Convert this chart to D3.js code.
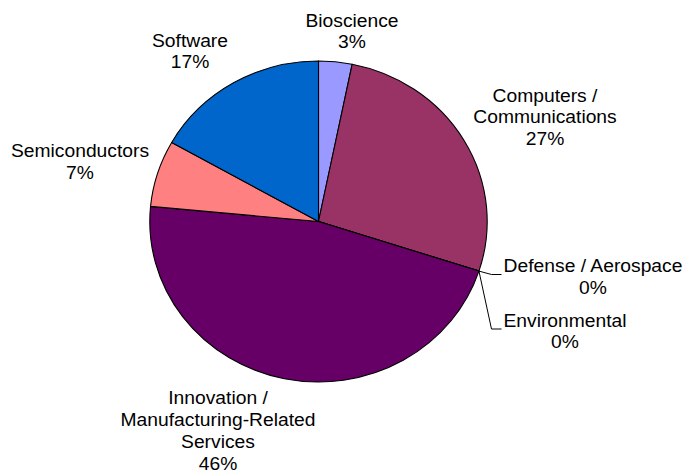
<!DOCTYPE html>
<html>
<head>
<meta charset="utf-8">
<script src="https://cdn.jsdelivr.net/npm/d3@7"></script>
<style>
  html, body { margin: 0; padding: 0; background: #fff; }
  svg { display: block; }
  text { font-family: "Liberation Sans", Arial, sans-serif; fill: #000; }
</style>
</head>
<body>
<svg id="chart" width="686" height="476"></svg>
<script>
// ---- data ----
const categories = ["Bioscience", "Computers / Communications", "Defense / Aerospace",
  "Environmental", "Innovation / Manufacturing-Related Services", "Semiconductors", "Software"];
const values = [3.2, 26.8, 0, 0, 46.5, 6.7, 16.8];
const percentLabels = ["3%", "27%", "0%", "0%", "46%", "7%", "17%"];
const labelLines = [
  ["Bioscience"],
  ["Computers /", "Communications"],
  ["Defense / Aerospace"],
  ["Environmental"],
  ["Innovation /", "Manufacturing-Related", "Services"],
  ["Semiconductors"],
  ["Software"]
];
const colors = ["#9999FF", "#993366", "#FFFFCC", "#CCFFFF", "#660066", "#FF8080", "#0066CC"];

// ---- layout ----
const W = 686, H = 476;
const cx = 318.5, cy = 221.5, rx = 168.7, ry = 160.5;
const lineH = 22;
const fontSize = 18.3, stretch = 1.053;
// label anchors: [center x, first baseline y]
const labelPos = [
  [352, 26.5],
  [545, 101.5],
  [593, 272],
  [565, 326.5],
  [218, 404],
  [80, 157],
  [190, 46.5]
];

const svg = d3.select("#chart");
const data = categories.map((c, i) => ({ name: c, value: values[i], color: colors[i], lines: labelLines[i], pct: percentLabels[i], pos: labelPos[i] }));

const pie = d3.pie().sort(null).value(d => d.value);
const arcs = pie(data);
const arc = d3.arc().innerRadius(0).outerRadius(ry);

const g = svg.append("g").attr("transform", `translate(${cx},${cy}) scale(${rx / ry},1)`);
g.selectAll("path.slice")
  .data(arcs)
  .join("path")
  .attr("class", "slice")
  .attr("d", arc)
  .attr("fill", d => d.data.color)
  .attr("stroke", "#000")
  .attr("stroke-width", 1.1)
  .attr("vector-effect", "non-scaling-stroke")
  .attr("stroke-linejoin", "round");

// leader lines for the zero-size slices
function edgePoint(angle) {
  return [cx + rx * Math.sin(angle), cy - ry * Math.cos(angle)];
}
arcs.forEach(a => {
  if (a.data.value === 0) {
    const p = edgePoint(a.startAngle);
    const lx = a.data.pos[0], ly = a.data.pos[1];
    // horizontal tick ends just left of the label text
    const textLeft = lx - 90 * (a.data.name.length / 19);
    const tickEnd = a.data.name === "Defense / Aerospace" ? 501.5 : 501.5;
    const yTick = ly + 2.5;
    const xBend = tickEnd - 10;
    svg.append("polyline")
      .attr("points", [[p[0], p[1]], [xBend, yTick], [tickEnd, yTick]].map(q => q.join(",")).join(" "))
      .attr("fill", "none")
      .attr("stroke", "#000")
      .attr("stroke-width", 1);
  }
});

// labels
data.forEach(d => {
  const t = svg.append("text")
    .attr("transform", `translate(${d.pos[0]},${d.pos[1]}) scale(${stretch},1)`)
    .attr("text-anchor", "middle")
    .style("font-size", fontSize + "px");
  d.lines.concat([d.pct]).forEach((ln, i) => {
    t.append("tspan").attr("x", 0).attr("y", i * lineH).text(ln);
  });
});
</script>
</body>
</html>
